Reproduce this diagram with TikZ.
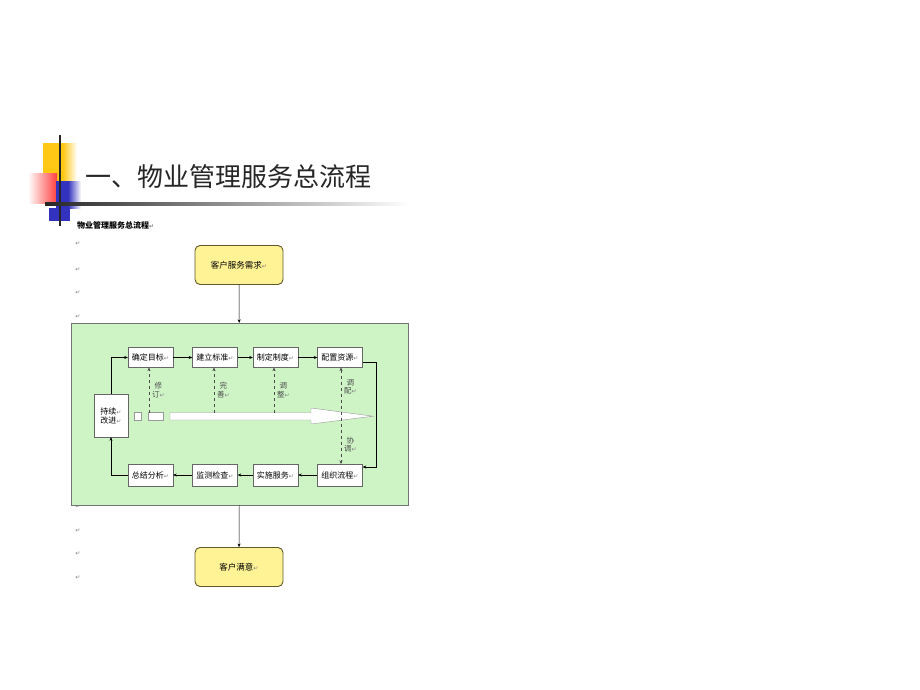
\documentclass[tikz,border=0pt]{standalone}
\usepackage{fontspec}
\newfontfamily\cjk{Noto Sans CJK SC}
\newfontfamily\symf{DejaVu Sans}
\usetikzlibrary{arrows.meta}
\definecolor{lgreen}{RGB}{206,244,198}
\definecolor{lyellow}{RGB}{255,243,150}
\definecolor{gold}{RGB}{255,200,20}
\definecolor{logoblue}{RGB}{50,50,190}
\newcommand{\ret}{{\symf\fontsize{6}{6}\selectfont\textcolor{black!50}{↵}}}
\begin{document}
\begin{tikzpicture}[x=1pt,y=-1pt,>={Stealth[length=3.5pt,width=3pt]},
	font=\cjk\fontsize{8}{9}\selectfont,
	blk/.style={draw=black!60,fill=white,minimum width=45pt,minimum height=20pt,inner sep=1pt},
	yel/.style={draw=black!45!olive,line width=.9pt,fill=lyellow,rounded corners=5pt,
		minimum width=88pt,minimum height=39pt,font=\cjk\fontsize{8.5}{9}\selectfont},
	lbl/.style={align=center,font=\cjk\fontsize{7.5}{8.5}\selectfont,inner sep=1pt}]
	\useasboundingbox (0,0) rectangle (920,690);
	% logo
	\fill[gold] (43,143) rectangle (63,183);
	\shade[left color=gold,right color=white] (63,143) rectangle (77,183);
	\shade[left color=white,right color=red!75] (28,173) rectangle (57,203);
	\fill[logoblue] (56,181) rectangle (68,208);
	\shade[left color=logoblue,right color=white] (68,181) rectangle (81,208);
	\fill[logoblue] (49,208) rectangle (70,221);
	\draw[line width=1.3pt,black!85] (60,135)--(60,226);
	\shade[left color=black!85,right color=white] (45,202.8) rectangle (410,205.4);
	\node[anchor=west,font=\cjk\fontsize{26}{28}\selectfont,text=black!85] (ttl) at (82,177) {一、物业管理服务总流程};
	\node[anchor=west,font=\cjk\bfseries\fontsize{8}{9}\selectfont,inner sep=0pt] (sub) at (77,225) {物业管理服务总流程\ret};
	\foreach \y in {244,270,293,317,507,531,554,578}
		\node[inner sep=0pt] (r\y) at (78,\y) {\ret};
	% flow
	\node[yel] (xq) at (239,265) {客户服务需求\ret};
	\node[draw=black!55,fill=lgreen,minimum width=337pt,minimum height=182pt] (gl) at (239.5,414) {};
	\node[yel] (my) at (239,567) {客户满意\ret};
	\draw[->] (xq)--(gl);
	\draw[->] (gl)--(my);
	\node[blk] (qd) at (150.5,357.5) {确定目标\ret};
	\node[blk] (jl) at (215,357.5) {建立标准\ret};
	\node[blk] (zd) at (275.5,357.5) {制定制度\ret};
	\node[blk] (pz) at (340,357.5) {配置资源\ret};
	\node[blk,minimum height=22pt] (zj) at (150.5,475) {总结分析\ret};
	\node[blk,minimum height=22pt] (jc) at (215,475) {监测检查\ret};
	\node[blk,minimum height=22pt] (ss) at (275.5,475) {实施服务\ret};
	\node[blk,minimum height=22pt] (zz) at (340,475) {组织流程\ret};
	\node[blk,minimum width=34pt,minimum height=43pt,align=center] (cx) at (111,415.5) {持续\ret\\改进\ret};
	\draw[->] (cx.north)|-(qd.west);
	\draw[->] (qd)--(jl); \draw[->] (jl)--(zd); \draw[->] (zd)--(pz);
	\draw[->] ([yshift=-5pt]pz.east)--++(13,0)|-([yshift=8pt]zz.east);
	\draw[->] (zz)--(ss); \draw[->] (ss)--(jc); \draw[->] (jc)--(zj);
	\draw[->] (zj.west)-|(cx.south);
	% hollow arrow
	\draw[black!40,fill=white] (134,412.5) rectangle (141,420);
	\draw[black!40,fill=white] (148,412.5) rectangle (163,420);
	\draw[black!40,fill=white] (170,412.5)--(311,412.5)--(311,408)--(373,416.2)--(311,424)--(311,420)--(170,420)--cycle;
	\foreach \n/\x/\t in {qd/149/修\\订,jl/214/完\\善,zd/274/调\\整}
		\draw[->,dashed,black!70] (\x,412.5)--(\x,367.5) node[midway,right=2pt,lbl] {\t\ret};
	\draw[<->,dashed,black!70] (341,367.5)--(341,464)
		node[pos=.2,right=2pt,lbl] {调\\配\ret} node[pos=.8,right=2pt,lbl] {协\\调\ret};
\end{tikzpicture}
\end{document}
